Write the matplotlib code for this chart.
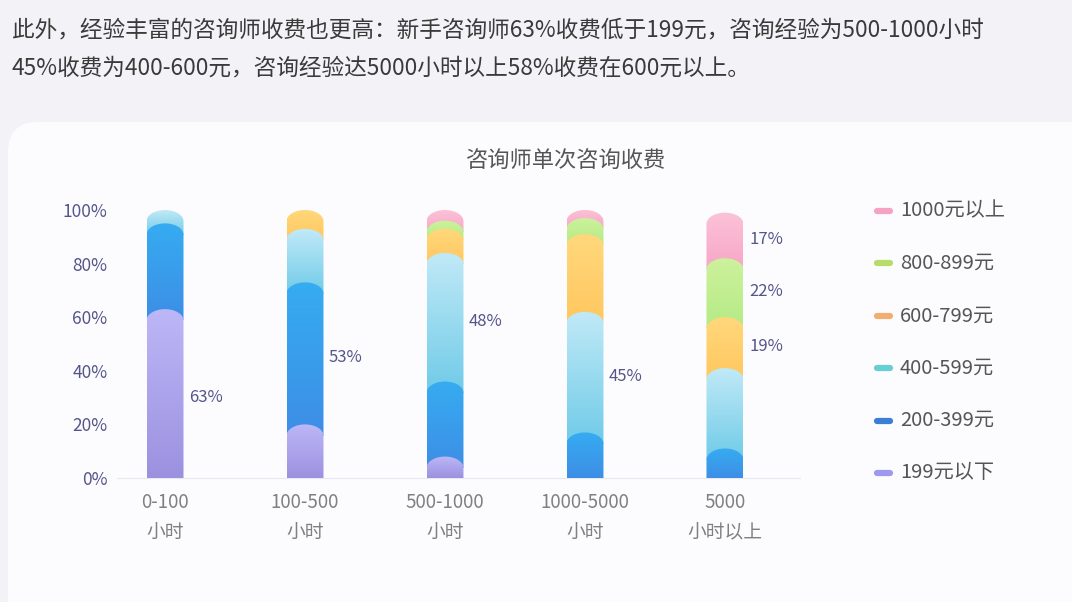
import numpy as np
import matplotlib
matplotlib.use('Agg')
import matplotlib.pyplot as plt
from matplotlib.path import Path
from matplotlib.patches import PathPatch, FancyBboxPatch
from matplotlib.colors import to_rgb
from matplotlib.lines import Line2D

plt.rcParams['font.family'] = ['Noto Sans CJK SC', 'DejaVu Sans']

#### DATA
hours = ['0-100\n小时', '100-500\n小时', '500-1000\n小时', '1000-5000\n小时', '5000\n小时以上']
price_bins = ['199元以下', '200-399元', '400-599元', '600-799元', '800-899元', '1000元以上']
share_199 = [63, 20, 8, 0, 0]
share_200_399 = [32, 53, 28, 17, 11]
share_400_599 = [5, 20, 48, 45, 30]
share_600_799 = [0, 7, 9, 29, 19]
share_800_899 = [0, 0, 3, 6, 22]
share_1000 = [0, 0, 4, 3, 17]
# (bar, series) pairs that carry a % label
shown_labels = [(0, 0), (1, 1), (2, 2), (3, 2), (4, 3), (4, 4), (4, 5)]

header1 = '此外，经验丰富的咨询师收费也更高：新手咨询师63%收费低于199元，咨询经验为500-1000小时'
header2 = '45%收费为400-600元，咨询经验达5000小时以上58%收费在600元以上。'
title = '咨询师单次咨询收费'

#### STYLE
# (bottom colour, top colour) of each segment gradient
grad_colors = [('#9c91e0', '#bcb7f7'),
               ('#3d8ee6', '#36acf1'),
               ('#70cbe8', '#c0e9f7'),
               ('#ffc75f', '#ffd87c'),
               ('#b5ea86', '#cdf29c'),
               ('#f7a7c6', '#fbc2d7')]
legend_colors = ['#9f98f0', '#3b7fd5', '#66cfd6', '#f2ad70', '#b7dc6a', '#f5a3c3']
label_color = '#55558a'
bar_w = 0.264
cap = 4.2  # height of the rounded top, in % units


def dome_path(xc, half_w, top, cap_h):
    k = 0.5523
    xl, xr = xc - half_w, xc + half_w
    verts = [(xl, 0), (xl, top - cap_h),
             (xl, top - cap_h + k * cap_h), (xc - k * half_w, top), (xc, top),
             (xc + k * half_w, top), (xr, top - cap_h + k * cap_h), (xr, top - cap_h),
             (xr, 0), (xl, 0)]
    codes = [Path.MOVETO, Path.LINETO, Path.CURVE4, Path.CURVE4, Path.CURVE4,
             Path.CURVE4, Path.CURVE4, Path.CURVE4, Path.LINETO, Path.CLOSEPOLY]
    return Path(verts, codes)


def gradient(c_bottom, c_top, n=64):
    b = np.array(to_rgb(c_bottom))
    t = np.array(to_rgb(c_top))
    f = np.linspace(0, 1, n)[:, None]
    return (b + (t - b) * f)[:, None, :]


fig = plt.figure(figsize=(10.72, 6.02), dpi=100)
fig.patch.set_facecolor('#f3f3f7')

# background / card in pixel units
bg = fig.add_axes([0, 0, 1, 1], zorder=-1)
bg.set_xlim(0, 1072)
bg.set_ylim(602, 0)
bg.axis('off')
bg.add_patch(FancyBboxPatch((38, 152), 1100, 500, boxstyle='round,pad=30',
                            facecolor='#fcfcfe', edgecolor='none'))
bg.text(12, 30, header1, fontsize=16.3, color='#3a3a3a', va='center')
bg.text(12, 68, header2, fontsize=16.3, color='#3a3a3a', va='center')
bg.text(566, 160, title, fontsize=16, color='#555555', va='center', ha='center')

# legend
for k, name in enumerate(price_bins[::-1]):
    y = 211 + 52.4 * k
    c = legend_colors[::-1][k]
    bg.add_line(Line2D([877, 890], [y, y], color=c, lw=4.5, solid_capstyle='round'))
    bg.text(900, y, name, fontsize=14.5, color='#555555', va='center')

# main chart
ax = fig.add_axes([117 / 1072, 1 - 478 / 602, (800 - 117) / 1072, (478 - 210) / 602])
ax.patch.set_visible(False)

series = np.array([share_199, share_200_399, share_400_599,
                   share_600_799, share_800_899, share_1000], dtype=float)
cum = np.cumsum(series, axis=0)
x = np.arange(len(hours))

for i in x:
    for j in range(len(price_bins) - 1, -1, -1):
        if series[j, i] <= 0:
            continue
        top = cum[j, i]
        prev = cum[j - 1, i] if j > 0 else 0
        patch = PathPatch(dome_path(i, bar_w / 2, top, cap), facecolor='none',
                          edgecolor='none', transform=ax.transData)
        ax.add_patch(patch)
        im = ax.imshow(gradient(*grad_colors[j]), origin='lower', aspect='auto',
                       interpolation='bilinear',
                       extent=[i - bar_w / 2, i + bar_w / 2, max(0, prev - cap), top],
                       zorder=10 - j)
        im.set_clip_path(patch)

for i, j in shown_labels:
    top = cum[j, i]
    prev = cum[j - 1, i] if j > 0 else 0
    ax.annotate(f'{int(series[j, i])}%', (i + bar_w / 2, (prev + top) / 2 - 1.5),
                xytext=(4, 0), textcoords='offset points', va='center',
                fontsize=12, color=label_color, zorder=20)

ax.set_xlim(-0.343, 4.536)
ax.set_ylim(0, 100)
ax.set_xticks(x)
ax.set_xticklabels(hours, fontsize=13.5, color='#808080', linespacing=1.6)
ax.set_yticks(np.arange(0, 101, 20))
ax.set_yticklabels([f'{v}%' for v in range(0, 101, 20)], fontsize=12.5, color=label_color)
ax.tick_params(axis='both', length=0)
ax.tick_params(axis='x', pad=10)
ax.tick_params(axis='y', pad=7)
for s in ['top', 'right', 'left']:
    ax.spines[s].set_visible(False)
ax.spines['bottom'].set_color('#e8e8ef')

fig.savefig('out.png', dpi=100, facecolor=fig.get_facecolor())
